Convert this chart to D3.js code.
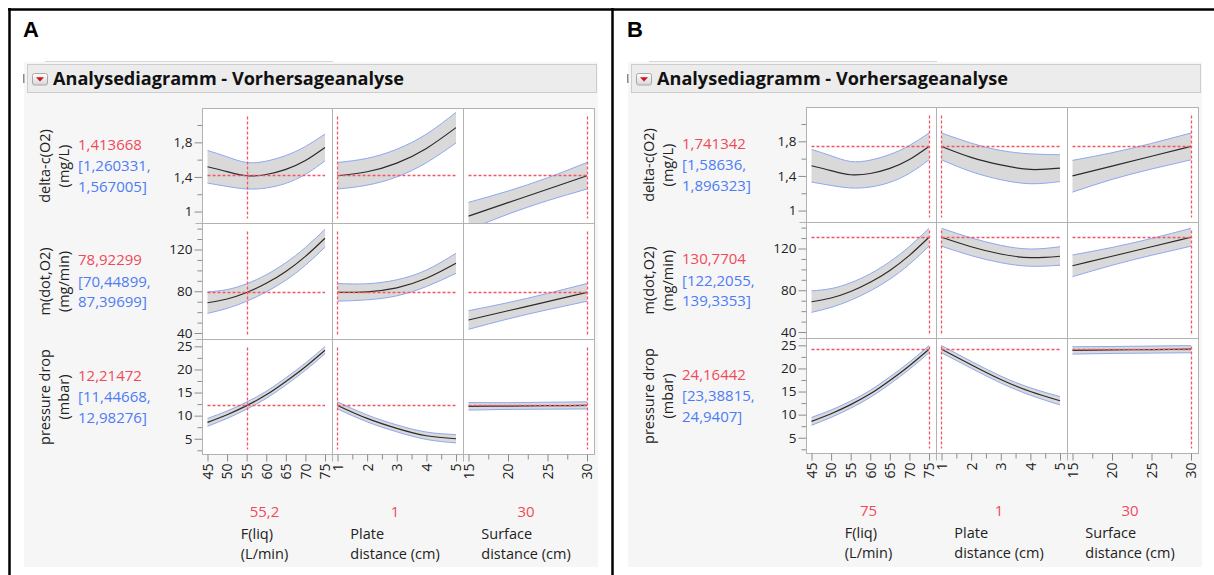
<!DOCTYPE html>
<html><head><meta charset="utf-8">
<script src="https://cdn.jsdelivr.net/npm/d3@7"></script>
<style>
body{margin:0;background:#fff;}
svg{display:block;font-family:"Open Sans","Noto Sans",sans-serif;}
</style></head><body>
<svg id="c" width="1214" height="575"></svg>
<script>
// ---------------- data ----------------
const panelLetters = ["A", "B"];
const title = "Analysediagramm - Vorhersageanalyse";
const responseNames = [["delta-c(O2)", "(mg/L)"], ["m(dot,O2)", "(mg/min)"], ["pressure drop", "(mbar)"]];
const factorNames = [["F(liq)", "(L/min)"], ["Plate", "distance (cm)"], ["Surface", "distance (cm)"]];
const factorDomains = [[45, 75], [1, 5], [15, 30]];
const responseDomains = [[0.862, 2.191], [33.8, 144.9], [1.59, 26.48]];
const xMajorTicks = [[45, 50, 55, 60, 65, 70, 75], [1, 2, 3, 4, 5], [15, 20, 25, 30]];
const xMinorTicks = [[], [1.5, 2.5, 3.5, 4.5], [17.5, 22.5, 27.5]];
const yMajorTicks = [[1, 1.4, 1.8], [40, 80, 120], [5, 10, 15, 20, 25]];
const yMinorTicks = [[1.2, 1.6, 2.0], [50, 60, 70, 90, 100, 110, 130, 140], [2.5, 7.5, 12.5, 17.5, 22.5]];

const fliqX = [45, 50, 55, 60, 65, 70, 75];
const plateX = [1, 2, 3, 4, 5];
const surfX = [15, 20, 25, 30];

// delta-c(O2)
const dcFliq = [1.518, 1.462, 1.414, 1.428, 1.487, 1.590, 1.741];
const dcFliqLo = [1.329, 1.290, 1.261, 1.272, 1.326, 1.430, 1.586];
const dcFliqHi = [1.706, 1.633, 1.567, 1.583, 1.648, 1.752, 1.896];
const dcPlateA = [1.414, 1.460, 1.560, 1.730, 1.970];
const dcPlateALo = [1.260, 1.305, 1.400, 1.565, 1.793];
const dcPlateAHi = [1.567, 1.615, 1.720, 1.895, 2.146];
const dcSurfA = [0.948, 1.103, 1.258, 1.414];
const dcSurfALo = [0.790, 0.970, 1.126, 1.260];
const dcSurfAHi = [1.106, 1.237, 1.390, 1.567];
const dcPlateB = [1.741, 1.615, 1.527, 1.475, 1.490];
const dcPlateBLo = [1.586, 1.450, 1.357, 1.310, 1.335];
const dcPlateBHi = [1.896, 1.780, 1.695, 1.655, 1.645];
const dcSurfB = [1.400, 1.514, 1.628, 1.741];
const dcSurfBLo = [1.213, 1.360, 1.480, 1.586];
const dcSurfBHi = [1.580, 1.668, 1.776, 1.896];

// m(dot,O2)
const mdFliq = [69.0, 72.6, 78.8, 87.6, 99.0, 113.4, 130.77];
const mdFliqLo = [58.8, 63.6, 70.4, 79.4, 90.6, 104.9, 122.2];
const mdFliqHi = [79.4, 81.6, 87.2, 95.8, 107.4, 121.9, 139.3];
const mdPlateA = [78.92, 79.5, 83.3, 92.4, 106.8];
const mdPlateALo = [70.45, 71.8, 75.6, 84.5, 97.2];
const mdPlateAHi = [87.4, 87.2, 91.0, 100.3, 116.4];
const mdSurfA = [52.5, 61.3, 70.1, 78.92];
const mdSurfALo = [43.5, 53.5, 62.3, 70.45];
const mdSurfAHi = [61.4, 69.1, 77.9, 87.4];
const mdPlateB = [130.77, 121.7, 114.7, 111.2, 112.6];
const mdPlateBLo = [122.2, 113.2, 106.4, 103.0, 104.0];
const mdPlateBHi = [139.34, 130.2, 123.0, 119.5, 121.7];
const mdSurfB = [103.5, 112.6, 121.7, 130.77];
const mdSurfBLo = [93.0, 103.9, 113.5, 122.2];
const mdSurfBHi = [113.8, 121.0, 129.6, 139.34];

// pressure drop
const pdFliq = [8.55, 10.2, 12.17, 14.5, 17.4, 20.6, 24.16];
const pdFliqLo = [7.7, 9.4, 11.4, 13.73, 16.62, 19.82, 23.39];
const pdFliqHi = [9.4, 11.0, 12.94, 15.27, 18.18, 21.38, 24.94];
const pdPlateA = [12.21, 9.4, 7.25, 5.65, 5.0];
const pdPlateALo = [11.45, 8.65, 6.5, 4.85, 4.1];
const pdPlateAHi = [12.98, 10.15, 8.0, 6.45, 5.9];
const pdSurfA = [12.02, 12.08, 12.15, 12.21];
const pdSurfALo = [11.2, 11.35, 11.4, 11.45];
const pdSurfAHi = [12.84, 12.8, 12.9, 12.98];
const pdPlateB = [24.16, 20.8, 17.6, 15.0, 13.0];
const pdPlateBLo = [23.39, 20.05, 16.85, 14.2, 12.1];
const pdPlateBHi = [24.94, 21.55, 18.35, 15.8, 13.9];
const pdSurfB = [23.9, 24.0, 24.08, 24.16];
const pdSurfBLo = [23.1, 23.25, 23.32, 23.39];
const pdSurfBHi = [24.7, 24.75, 24.84, 24.94];

const currentA = [55.2, 1, 30];
const currentB = [75, 1, 30];
const currentTextA = ["55,2", "1", "30"];
const currentTextB = ["75", "1", "30"];
const predA = [1.413668, 78.92299, 12.21472];
const predB = [1.741342, 130.7704, 24.16442];
const predTextA = ["1,413668", "78,92299", "12,21472"];
const predTextB = ["1,741342", "130,7704", "24,16442"];
const ciTextA = [["[1,260331,", "1,567005]"], ["[70,44899,", "87,39699]"], ["[11,44668,", "12,98276]"]];
const ciTextB = [["[1,58636,", "1,896323]"], ["[122,2055,", "139,3353]"], ["[23,38815,", "24,9407]"]];

// ---------------- assemble ----------------
const xs = [fliqX, plateX, surfX];
const curvesA = [
  [[dcFliq, dcFliqLo, dcFliqHi], [dcPlateA, dcPlateALo, dcPlateAHi], [dcSurfA, dcSurfALo, dcSurfAHi]],
  [[mdFliq, mdFliqLo, mdFliqHi], [mdPlateA, mdPlateALo, mdPlateAHi], [mdSurfA, mdSurfALo, mdSurfAHi]],
  [[pdFliq, pdFliqLo, pdFliqHi], [pdPlateA, pdPlateALo, pdPlateAHi], [pdSurfA, pdSurfALo, pdSurfAHi]]
];
const curvesB = [
  [[dcFliq, dcFliqLo, dcFliqHi], [dcPlateB, dcPlateBLo, dcPlateBHi], [dcSurfB, dcSurfBLo, dcSurfBHi]],
  [[mdFliq, mdFliqLo, mdFliqHi], [mdPlateB, mdPlateBLo, mdPlateBHi], [mdSurfB, mdSurfBLo, mdSurfBHi]],
  [[pdFliq, pdFliqLo, pdFliqHi], [pdPlateB, pdPlateBLo, pdPlateBHi], [pdSurfB, pdSurfBLo, pdSurfBHi]]
];
const panels = [
  {letter: panelLetters[0], curves: curvesA, cur: currentA, curText: currentTextA, pred: predA, predText: predTextA, ci: ciTextA, dx: 0, dy: 0},
  {letter: panelLetters[1], curves: curvesB, cur: currentB, curText: currentTextB, pred: predB, predText: predTextB, ci: ciTextB, dx: 604, dy: -1}
];

const RED = "#f04a5a", BLUE = "#4d7cf5", DOT = "#f25564";
const fmt = d => String(d).replace(".", ",");
const snap = v => Math.round(v - 0.5) + 0.5;
const svg = d3.select("#c");
const defs = svg.append("defs");
const grad = defs.append("linearGradient").attr("id", "btn").attr("x1", 0).attr("x2", 0).attr("y1", 0).attr("y2", 1);
grad.append("stop").attr("offset", "0%").attr("stop-color", "#ffffff");
grad.append("stop").attr("offset", "100%").attr("stop-color", "#d6d6d6");

const colX = [202.5, 332.5, 463.5, 594.5];
const rowY = [108.5, 223.5, 339.5, 454.5];

panels.forEach((p, pi) => {
  const g = svg.append("g").attr("transform", `translate(${p.dx},0)`);
  // background
  g.append("rect").attr("x", 24).attr("y", 62).attr("width", 574).attr("height", 505).attr("fill", "#f6f6f6");
  g.append("line").attr("x1", 45).attr("x2", 333).attr("y1", 61.5).attr("y2", 61.5).attr("stroke", "#d6d6d6");
  g.append("rect").attr("x", 27.5).attr("y", 64.5).attr("width", 569).attr("height", 28).attr("fill", "#ececec").attr("stroke", "#cdcdcd");
  g.append("rect").attr("x", 23).attr("y", 74).attr("width", 1.5).attr("height", 9).attr("fill", "#8a8a8a");
  g.append("rect").attr("x", 32.5).attr("y", 73.5).attr("width", 15).attr("height", 11.5).attr("rx", 2)
    .attr("fill", "url(#btn)").attr("stroke", "#a8a8a8");
  g.append("path").attr("d", "M36,77.2 L44,77.2 L40,81.6 Z").attr("fill", "#d4101c");
  g.append("text").attr("x", 53).attr("y", 84.5).attr("font-size", 18).attr("font-weight", "bold")
    .attr("fill", "#111").attr("textLength", 351).attr("lengthAdjust", "spacingAndGlyphs").text(title);
  // panel letter
  g.append("text").attr("x", 23).attr("y", 37).attr("font-size", 22).attr("font-weight", "bold")
    .attr("font-family", "'Liberation Sans', Arial, sans-serif").attr("fill", "#000").text(p.letter);

  const gp = g.append("g").attr("transform", `translate(0,${p.dy})`);

  for (let r = 0; r < 3; r++) {
    const y0 = rowY[r], y1 = rowY[r + 1];
    const yS = d3.scaleLinear().domain(responseDomains[r]).range([y1, y0]);
    const rc = (y0 + y1) / 2;
    // row labels
    responseNames[r].forEach((t, i) => {
      gp.append("text").attr("transform", `translate(${i === 0 ? 50 : 68.5},${rc}) rotate(-90)`)
        .attr("text-anchor", "middle").attr("font-size", 14.5).attr("fill", "#222").text(t);
    });
    gp.append("text").attr("x", 78).attr("y", rc - 16.5).attr("font-size", 15).attr("fill", RED).text(p.predText[r]);
    gp.append("text").attr("x", 78).attr("y", rc + 5).attr("font-size", 15).attr("fill", BLUE).text(p.ci[r][0]);
    gp.append("text").attr("x", 78).attr("y", rc + 25.5).attr("font-size", 15).attr("fill", BLUE).text(p.ci[r][1]);

    // y axis
    const ax = gp.append("g").attr("transform", `translate(${colX[0]},0)`);
    ax.call(d3.axisLeft(yS).tickValues(yMinorTicks[r]).tickSize(5).tickFormat(""));
    ax.select(".domain").remove();
    const ax2 = gp.append("g").attr("transform", `translate(${colX[0]},0)`);
    ax2.call(d3.axisLeft(yS).tickValues(yMajorTicks[r]).tickSize(8).tickPadding(2).tickFormat(fmt));
    ax2.select(".domain").remove();
    [ax, ax2].forEach(a => {
      a.selectAll("line").attr("stroke", "#8c8c8c");
      a.selectAll("text").attr("font-size", 13.5).attr("fill", "#222").attr("font-family", "'Open Sans','Noto Sans',sans-serif");
    });

    for (let c = 0; c < 3; c++) {
      const x0 = colX[c], x1 = colX[c + 1];
      const xS = d3.scaleLinear().domain(factorDomains[c]).range([x0 + 5, x1 - 7.5]);
      const id = `clip${pi}${r}${c}`;
      defs.append("clipPath").attr("id", id).append("rect").attr("x", x0).attr("y", y0 + p.dy).attr("width", x1 - x0).attr("height", y1 - y0);
      gp.append("rect").attr("x", x0).attr("y", y0).attr("width", x1 - x0).attr("height", y1 - y0)
        .attr("fill", "#fff");
      const cg = gp.append("g").attr("clip-path", `url(#${id})`);
      const [cen, lo, hi] = p.curves[r][c];
      const pts = xs[c].map((x, i) => ({x, c: cen[i], lo: lo[i], hi: hi[i]}));
      cg.append("path").datum(pts).attr("fill", "#d9d9d9")
        .attr("d", d3.area().x(d => xS(d.x)).y0(d => yS(d.lo)).y1(d => yS(d.hi)).curve(d3.curveNatural));
      ["lo", "hi"].forEach(k => {
        cg.append("path").datum(pts).attr("fill", "none").attr("stroke", "#8ea8f2").attr("stroke-width", 1)
          .attr("d", d3.line().x(d => xS(d.x)).y(d => yS(d[k])).curve(d3.curveNatural));
      });
      cg.append("path").datum(pts).attr("fill", "none").attr("stroke", "#2b2b2b").attr("stroke-width", 1.2)
        .attr("d", d3.line().x(d => xS(d.x)).y(d => yS(d.c)).curve(d3.curveNatural));
      // red reference lines
      const vx = snap(xS(p.cur[c])), hy = snap(yS(p.pred[r]));
      cg.append("line").attr("x1", vx).attr("x2", vx).attr("y1", y0 + 8).attr("y2", y1 - 5)
        .attr("stroke", DOT).attr("stroke-width", 1.3).attr("stroke-dasharray", "3,2");
      cg.append("line").attr("x1", xS.range()[0]).attr("x2", xS.range()[1]).attr("y1", hy).attr("y2", hy)
        .attr("stroke", DOT).attr("stroke-width", 1.3).attr("stroke-dasharray", "3,2");
      gp.append("rect").attr("x", x0).attr("y", y0).attr("width", x1 - x0).attr("height", y1 - y0)
        .attr("fill", "none").attr("stroke", "#b2b2b2");

      if (r === 2) {
        const bx = gp.append("g").attr("transform", `translate(0,${rowY[3]})`);
        bx.call(d3.axisBottom(xS).tickValues(xMinorTicks[c]).tickSize(5).tickFormat(""));
        bx.select(".domain").remove();
        const bx2 = gp.append("g").attr("transform", `translate(0,${rowY[3]})`);
        bx2.call(d3.axisBottom(xS).tickValues(xMajorTicks[c]).tickSize(7).tickFormat(fmt));
        bx2.select(".domain").remove();
        bx2.selectAll("text").attr("transform", "rotate(-90)").attr("x", -9).attr("y", 0).attr("dy", "0.35em")
          .attr("text-anchor", "end").attr("font-size", 14).attr("fill", "#222")
          .attr("font-family", "'Open Sans','Noto Sans',sans-serif");
        [bx, bx2].forEach(a => a.selectAll("line").attr("stroke", "#8c8c8c"));
        // factor labels
        const cc = (x0 + x1) / 2;
        gp.append("text").attr("x", cc - 3).attr("y", 517).attr("text-anchor", "middle")
          .attr("font-size", 15).attr("fill", RED).text(p.curText[c]);
        const lines = factorNames[c].map((t, i) => gp.append("text").attr("y", 539 + i * 20)
          .attr("font-size", 14.5).attr("fill", "#222").text(t));
        const w = d3.max(lines, l => l.node().getComputedTextLength());
        lines.forEach(l => l.attr("x", cc - w / 2 - 3));
      }
    }
  }
  // divider extensions
  [1, 2].forEach(i => {
    gp.append("line").attr("x1", colX[i]).attr("x2", colX[i]).attr("y1", rowY[3]).attr("y2", rowY[3] + 7).attr("stroke", "#b2b2b2");
    gp.append("line").attr("x1", colX[0] - 7).attr("x2", colX[0]).attr("y1", rowY[i]).attr("y2", rowY[i]).attr("stroke", "#b2b2b2");
  });
});

// outer borders
svg.append("line").attr("x1", 8).attr("x2", 1214).attr("y1", 9.5).attr("y2", 9.5).attr("stroke", "#000").attr("stroke-width", 2.5);
svg.append("line").attr("x1", 9.5).attr("x2", 9.5).attr("y1", 8).attr("y2", 575).attr("stroke", "#000").attr("stroke-width", 2.5);
svg.append("line").attr("x1", 612.5).attr("x2", 612.5).attr("y1", 8).attr("y2", 575).attr("stroke", "#000").attr("stroke-width", 2.5);
</script></body></html>
